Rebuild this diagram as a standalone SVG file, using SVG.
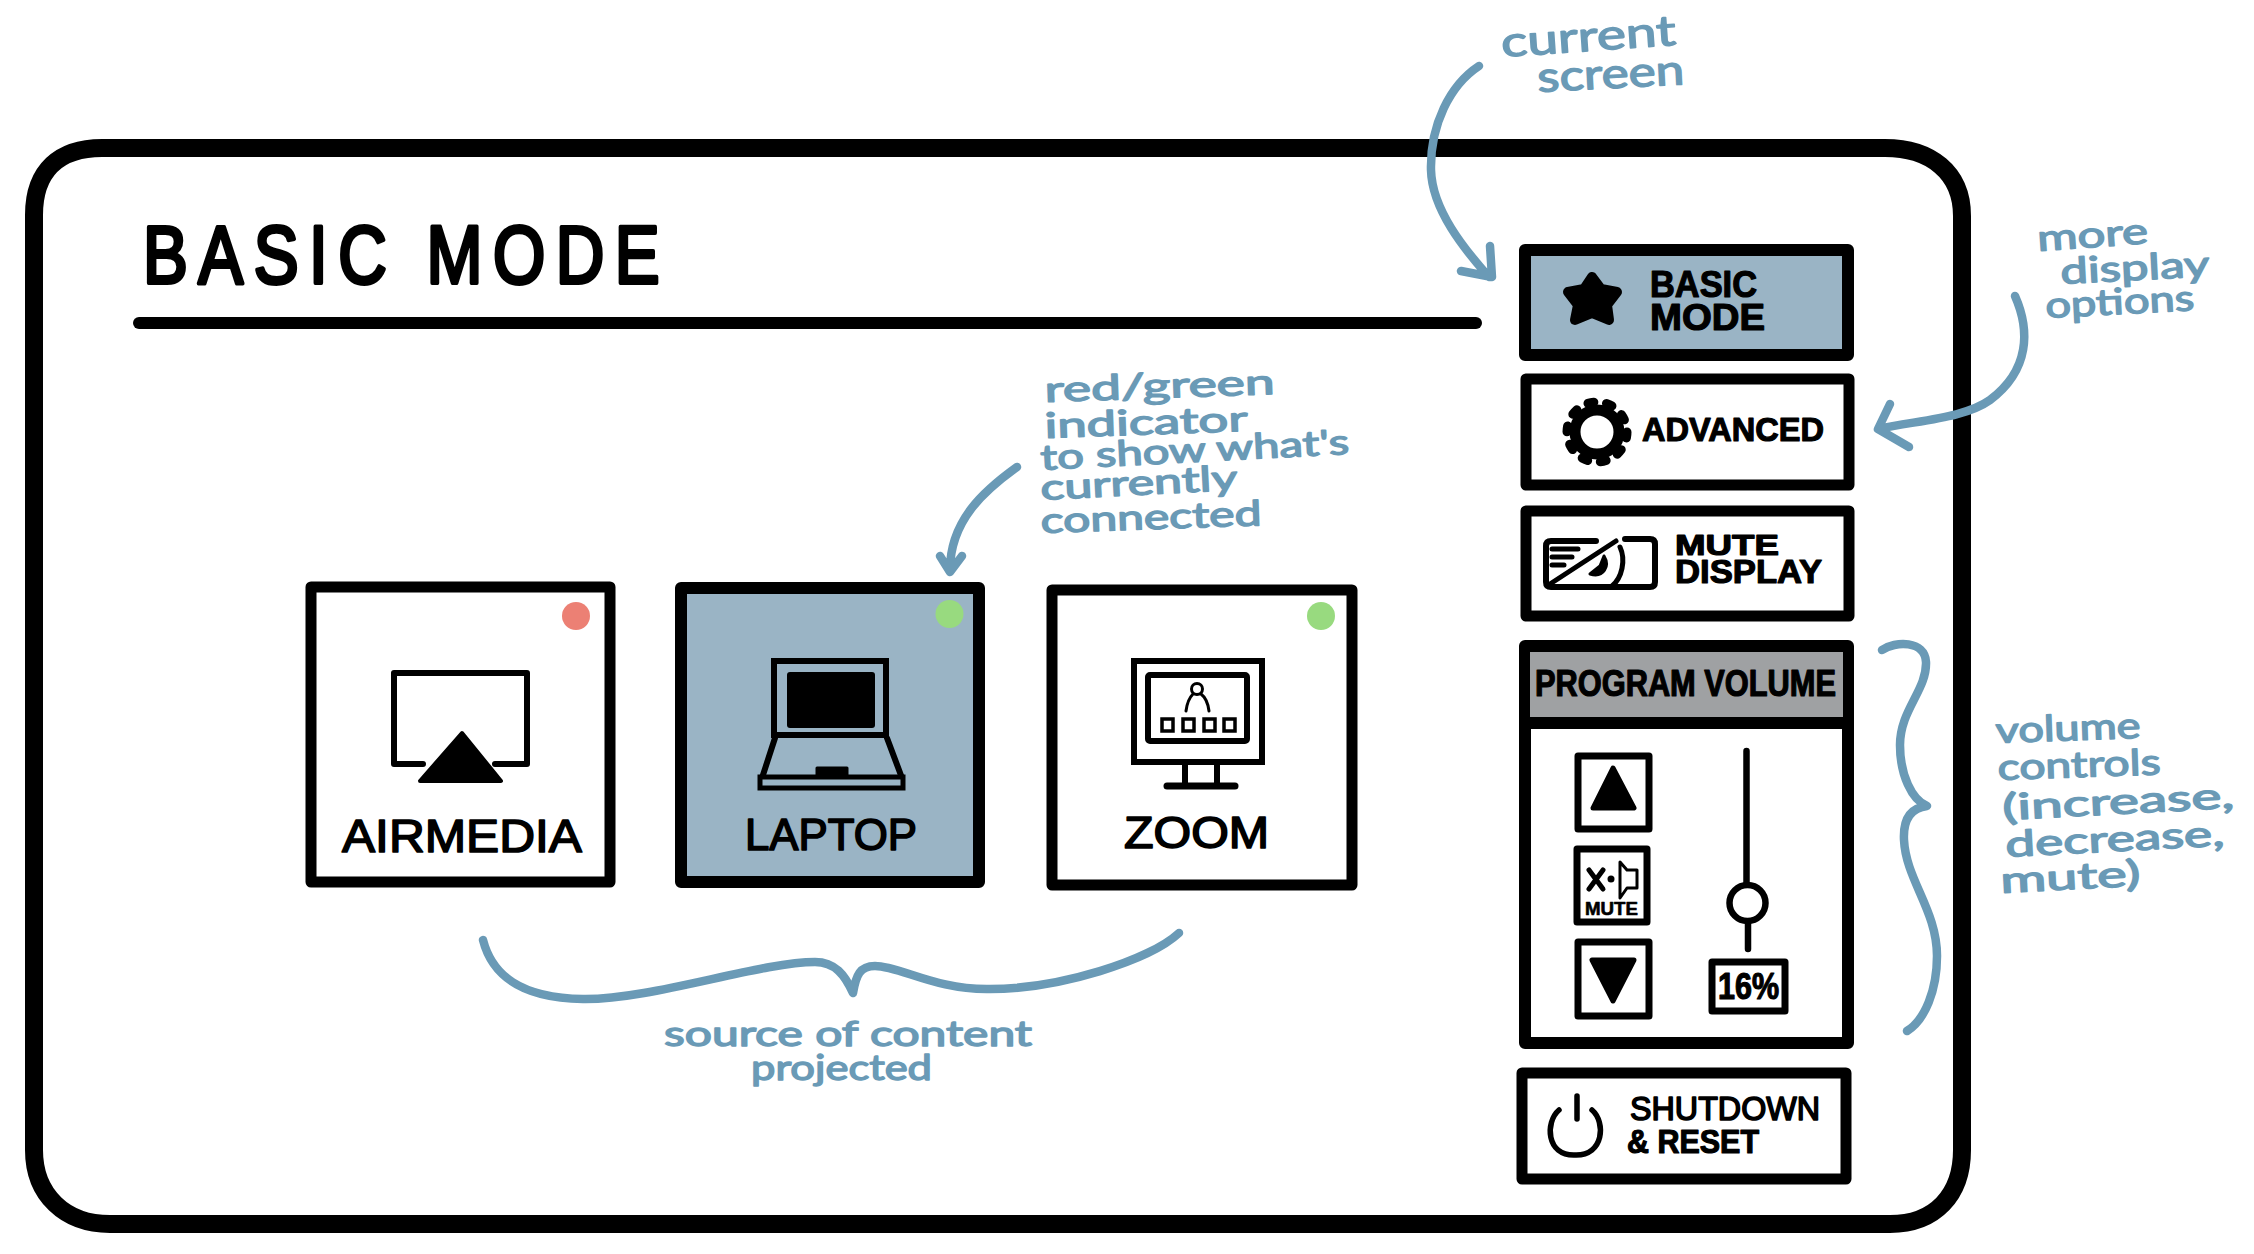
<svg xmlns="http://www.w3.org/2000/svg" width="2254" height="1254" viewBox="0 0 2254 1254">
<style>
.box{fill:#fff;stroke:#000;stroke-linejoin:round}
.sel{fill:#9ab4c5}
.ink{fill:none;stroke:#000;stroke-linecap:round;stroke-linejoin:round}
.solid{fill:#000;stroke:#000;stroke-linejoin:round}
.t{font-family:"Liberation Sans",Arial,sans-serif;font-weight:700;fill:#000;stroke:#000;stroke-width:1.2;stroke-linejoin:round}
.title{font-family:"Liberation Sans",Arial,sans-serif;font-weight:400;fill:#000;stroke:#000;stroke-width:4;stroke-linejoin:round}
.n{font-family:"Liberation Sans",Arial,sans-serif;font-weight:400;fill:#000;stroke:#000;stroke-width:1.6;stroke-linejoin:round}
.note{font-family:"Lato","Liberation Sans",sans-serif;font-weight:400;fill:#6a9ab6;stroke:#6a9ab6;stroke-width:1.4;stroke-linejoin:round}
.wire{fill:none;stroke:#6a9ab6;stroke-width:8.5;stroke-linecap:round;stroke-linejoin:round}
</style>
<rect width="2254" height="1254" fill="#fff"/>
<g id="frame">
<path d="M102 148H1885C1930 148 1962 172 1962 216V1150C1962 1195 1935 1224 1890 1224H110C65 1224 34 1195 34 1150V215C34 170 60 148 102 148Z" fill="#fff" stroke="#000" stroke-width="18"/>
</g>
<g id="title">
<text class="title" transform="translate(143 283) scale(.82 1)" x="0" y="0" font-size="82" textLength="630" lengthAdjust="spacing">BASIC MODE</text>
<path class="ink" d="M139 323H1476" stroke-width="12"/>
</g>
<g id="source-airmedia">
<rect class="box" x="311" y="587" width="299" height="295" stroke-width="11"/>
<circle cx="576" cy="616" r="14" fill="#ec8074"/>
<path class="ink" d="M423 764H394V673H527V764H495" stroke-width="6"/>
<path class="solid" d="M462 733L501 781H420Z" stroke-width="4"/>
<text class="n" x="342" y="852" font-size="46" textLength="240" lengthAdjust="spacingAndGlyphs">AIRMEDIA</text>
</g>
<g id="source-laptop">
<rect class="box sel" x="681" y="588" width="298" height="294" stroke-width="12"/>
<circle cx="949.5" cy="614" r="14" fill="#98da7f"/>
<rect x="774" y="661" width="112" height="74" fill="none" stroke="#000" stroke-width="6"/>
<rect x="787" y="672" width="88" height="56" rx="3" fill="#000"/>
<path class="ink" d="M775 738L762 778M887 738L902 778" stroke-width="6"/>
<path class="solid" d="M817 768H847V776H817Z" stroke-width="3"/>
<rect x="760" y="777" width="143" height="11" fill="#9ab4c5" stroke="#000" stroke-width="5"/>
<text class="n" x="745" y="850" font-size="44" textLength="172" lengthAdjust="spacingAndGlyphs">LAPTOP</text>
</g>
<g id="source-zoom">
<rect class="box" x="1052" y="590" width="300" height="295" stroke-width="11"/>
<circle cx="1321" cy="616" r="14" fill="#98da7f"/>
<rect x="1134" y="661" width="128" height="101" fill="none" stroke="#000" stroke-width="6"/>
<rect x="1148" y="675" width="99" height="66" rx="2" fill="none" stroke="#000" stroke-width="6"/>
<circle cx="1197" cy="689" r="5.500" fill="none" stroke="#000" stroke-width="3"/>
<path class="ink" d="M1186 711C1187 703 1190 697 1193 694M1209 711C1208 703 1205 697 1201 694" stroke-width="3"/>
<g fill="none" stroke="#000" stroke-width="3.500"><rect x="1162" y="719" width="11" height="12"/><rect x="1183" y="719" width="11" height="12"/><rect x="1204" y="719" width="11" height="12"/><rect x="1224" y="719" width="11" height="12"/></g>
<path class="ink" d="M1185 765V784M1217 765V784" stroke-width="6"/>
<path class="ink" d="M1167 786H1235" stroke-width="7"/>
<text class="n" x="1124" y="848" font-size="44" textLength="145" lengthAdjust="spacingAndGlyphs">ZOOM</text>
</g>
<g id="btn-basic">
<rect class="box sel" x="1525" y="250" width="323" height="105" stroke-width="12"/>
<path class="solid" d="M1592 277L1601 289L1617 292L1607 305L1609 320L1592 313L1575 320L1578 305L1568 292L1584 289Z" stroke-width="10"/>
<text class="t" x="1650" y="297" font-size="37" textLength="107" lengthAdjust="spacingAndGlyphs">BASIC</text>
<text class="t" x="1650" y="330" font-size="37" textLength="115" lengthAdjust="spacingAndGlyphs">MODE</text>
</g>
<g id="btn-advanced">
<rect class="box" x="1526" y="379" width="323" height="106" stroke-width="11"/>
<circle cx="1597" cy="432" r="22" fill="#fff" stroke="#000" stroke-width="11"/>
<circle cx="1597" cy="432" r="30" fill="none" stroke="#000" stroke-width="9" stroke-linecap="round" stroke-dasharray="6 12.850"/>
<text class="t" x="1642" y="441" font-size="34" textLength="182" lengthAdjust="spacingAndGlyphs">ADVANCED</text>
</g>
<g id="btn-mute-display">
<rect class="box" x="1526" y="511" width="323" height="105" stroke-width="11"/>
<path class="ink" d="M1596 541H1551Q1546 541 1546 546V582Q1546 587 1551 587H1650Q1655 587 1655 582V544Q1655 539 1650 539H1625" stroke-width="6"/>
<path class="ink" d="M1552 549H1578M1552 557H1572M1552 565H1564M1550 584L1616 541" stroke-width="5"/>
<path class="solid" d="M1604 556C1610 566 1604 578 1590 574L1600 566Z" stroke-width="3"/>
<path class="ink" d="M1620 547C1626 560 1622 578 1612 586" stroke-width="5"/>
<text class="t" x="1675" y="555" font-size="30" textLength="104" lengthAdjust="spacingAndGlyphs">MUTE</text>
<text class="t" x="1675" y="583" font-size="34" textLength="147" lengthAdjust="spacingAndGlyphs">DISPLAY</text>
</g>
<g id="program-volume">
<rect class="box" x="1525" y="646" width="323" height="397" stroke-width="12"/>
<rect x="1530" y="652" width="313" height="71" fill="#9fa1a3"/>
<path d="M1525 723H1848" stroke="#000" stroke-width="12"/>
<text class="t" x="1535" y="696" font-size="36" textLength="301" lengthAdjust="spacingAndGlyphs">PROGRAM VOLUME</text>
</g>
<g id="vol-up">
<rect class="box" x="1578" y="756" width="71" height="73" stroke-width="7"/>
<path class="solid" d="M1613 768L1634 808H1593Z" stroke-width="5"/>
</g>
<g id="vol-mute">
<rect class="box" x="1577" y="849" width="70" height="73" stroke-width="7"/>
<path class="ink" d="M1589 870L1603 889M1603 870L1589 889" stroke-width="5"/>
<path class="ink" d="M1620 862L1627 870H1637V888H1627L1620 898Z" stroke-width="3"/>
<circle cx="1611" cy="879" r="3.500" fill="#000"/>
<text class="t" x="1585" y="915" font-size="18" textLength="53" lengthAdjust="spacingAndGlyphs" style="stroke-width:.6">MUTE</text>
</g>
<g id="vol-down">
<rect class="box" x="1578" y="942" width="71" height="74" stroke-width="7"/>
<path class="solid" d="M1592 960H1634L1613 1001Z" stroke-width="5"/>
</g>
<g id="vol-slider">
<path class="ink" d="M1746.500 751V884M1748 922V949" stroke-width="6.500"/>
<circle cx="1747.500" cy="903" r="18" fill="#fff" stroke="#000" stroke-width="6.500"/>
<rect class="box" x="1712" y="962" width="73" height="49" stroke-width="7"/>
<text class="t" x="1718" y="999" font-size="36" textLength="61" lengthAdjust="spacingAndGlyphs">16%</text>
</g>
<g id="btn-shutdown">
<rect class="box" x="1522" y="1073" width="324" height="106" stroke-width="11"/>
<path class="ink" d="M1559 1110C1545 1122 1546 1156 1575 1155C1604 1156 1606 1122 1592 1110M1577 1096V1119" stroke-width="5.500"/>
<text class="n" x="1630" y="1120" font-size="33" textLength="190" lengthAdjust="spacingAndGlyphs">SHUTDOWN</text>
<text class="t" x="1627" y="1153" font-size="33" textLength="132" lengthAdjust="spacingAndGlyphs">&amp; RESET</text>
</g>
<g id="connectors">
<path class="wire" d="M1479 66C1450 85 1430 125 1431 170C1432 210 1465 250 1489 277M1490 246L1492 277L1461 271"/>
<path class="wire" d="M2015 296C2030 330 2030 370 1990 400C1965 418 1920 420 1878 429M1890 404L1878 429L1909 447"/>
<path class="wire" d="M1017 467C985 490 950 520 950 570M940 556L950 572L962 556"/>
<path class="wire" d="M1882 650C1895 641 1925 640 1926 662C1927 690 1900 710 1900 745C1900 775 1912 800 1927 806C1910 808 1903 820 1904 840C1906 880 1937 910 1937 956C1937 990 1925 1020 1907 1031"/>
<path class="wire" d="M483 940C492 975 520 998 583 999C650 1000 760 962 815 962C835 962 845 975 853 993C856 975 860 966 875 966C900 966 935 990 990 989C1060 989 1150 960 1179 933"/>
</g>
<g id="note-current">
<text class="note" x="1502" y="57" transform="rotate(-4 1502 57)" font-size="42" textLength="175" lengthAdjust="spacingAndGlyphs">current</text>
<text class="note" x="1538" y="92" transform="rotate(-3 1538 92)" font-size="42" textLength="147" lengthAdjust="spacingAndGlyphs">screen</text>
</g>
<g id="note-display">
<text class="note" x="2038" y="251" transform="rotate(-4 2038 251)" font-size="36" textLength="111" lengthAdjust="spacingAndGlyphs">more</text>
<text class="note" x="2061" y="284" transform="rotate(-3 2061 284)" font-size="36" textLength="149" lengthAdjust="spacingAndGlyphs">display</text>
<text class="note" x="2046" y="318" transform="rotate(-3 2046 318)" font-size="36" textLength="149" lengthAdjust="spacingAndGlyphs">options</text>
</g>
<g id="note-indicator">
<text class="note" x="1045" y="402" transform="rotate(-2 1045 402)" font-size="35" textLength="230" lengthAdjust="spacingAndGlyphs">red/green</text>
<text class="note" x="1045" y="438" transform="rotate(-2 1045 438)" font-size="35" textLength="203" lengthAdjust="spacingAndGlyphs">indicator</text>
<text class="note" x="1041" y="470" transform="rotate(-3 1041 470)" font-size="35" textLength="309" lengthAdjust="spacingAndGlyphs">to show what's</text>
<text class="note" x="1041" y="500" transform="rotate(-3 1041 500)" font-size="35" textLength="197" lengthAdjust="spacingAndGlyphs">currently</text>
<text class="note" x="1041" y="533" transform="rotate(-2 1041 533)" font-size="35" textLength="221" lengthAdjust="spacingAndGlyphs">connected</text>
</g>
<g id="note-volume">
<text class="note" x="1996" y="743" transform="rotate(-2 1996 743)" font-size="36" textLength="145" lengthAdjust="spacingAndGlyphs">volume</text>
<text class="note" x="1998" y="780" transform="rotate(-2 1998 780)" font-size="36" textLength="163" lengthAdjust="spacingAndGlyphs">controls</text>
<text class="note" x="2003" y="820" transform="rotate(-3 2003 820)" font-size="36" textLength="232" lengthAdjust="spacingAndGlyphs">(increase,</text>
<text class="note" x="2006" y="857" transform="rotate(-3 2006 857)" font-size="36" textLength="219" lengthAdjust="spacingAndGlyphs">decrease,</text>
<text class="note" x="2001" y="893" transform="rotate(-3 2001 893)" font-size="36" textLength="140" lengthAdjust="spacingAndGlyphs">mute)</text>
</g>
<g id="note-source">
<text class="note" x="664" y="1046" font-size="34" textLength="368" lengthAdjust="spacingAndGlyphs">source of content</text>
<text class="note" x="751" y="1080" font-size="34" textLength="181" lengthAdjust="spacingAndGlyphs">projected</text>
</g>
</svg>
